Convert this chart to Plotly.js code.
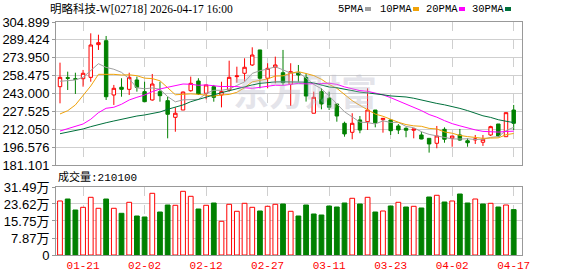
<!DOCTYPE html>
<html>
<head>
<meta charset="utf-8">
<script src="https://cdn.plot.ly/plotly-3.0.1.min.js"></script>
<style>
  html, body { margin: 0; padding: 0; background: #ffffff; }
  #chart { width: 578px; height: 276px; }
</style>
</head>
<body>
<div id="chart"></div>
<script>
// ---- data ----
const dates = ['01-16','01-19','01-20','01-21','01-22','01-23','01-26','01-27','01-28','01-29',
  '01-30','02-02','02-03','02-04','02-05','02-06','02-09','02-10','02-11','02-12',
  '02-13','02-16','02-20','02-23','02-24','02-25','02-26','02-27','03-02','03-03',
  '03-04','03-05','03-06','03-09','03-10','03-11','03-12','03-13','03-16','03-17',
  '03-18','03-19','03-20','03-23','03-24','03-25','03-26','03-27','03-30','03-31',
  '04-01','04-02','04-08','04-09','04-10','04-13','04-14','04-15','04-16','04-17'];

const openP = [248.9,256.7,255.8,255.8,257.0,285.3,288.7,241.7,248.4,246.6,
  254.7,244.6,237.4,244.6,236.8,222.4,228.7,245.4,253.8,243.2,
  248.9,241.7,246.0,257.6,260.5,267.7,280.7,256.2,265.7,261.0,
  251.0,261.0,257.0,225.9,244.6,238.9,233.9,217.2,209.4,220.1,
  218.6,228.7,220.3,220.1,214.9,212.9,211.2,207.1,204.2,199.9,
  212.0,204.2,207.1,202.1,202.8,200.8,207.1,216.6,205.6,228.7];
const highP = [269.7,261.9,261.0,263.4,295.1,293.9,292.8,250.4,256.2,261.0,
  257.6,253.2,259.9,253.2,240.2,231.0,244.6,257.6,256.2,250.4,
  250.4,253.2,271.4,266.2,273.5,283.0,280.7,269.2,274.9,280.7,
  269.2,267.7,260.5,244.6,247.5,244.6,233.9,218.6,225.9,223.5,
  247.5,228.7,221.5,220.7,216.6,213.7,212.3,209.9,204.2,214.9,
  213.7,206.2,212.3,204.2,207.1,207.1,215.1,216.6,226.4,233.1];
const lowP = [234.5,246.0,242.6,248.9,253.2,280.7,237.4,233.1,240.2,241.7,
  244.6,235.9,236.8,235.9,204.2,209.9,228.7,244.6,241.7,238.0,
  235.9,231.0,244.6,252.4,253.2,266.8,247.5,247.5,251.8,250.4,
  232.2,253.2,236.0,225.9,229.3,228.7,218.6,205.6,203.4,208.6,
  211.4,213.7,209.1,207.1,207.9,205.1,204.2,203.4,191.8,195.6,
  200.4,196.9,202.1,196.9,199.3,197.6,206.2,205.1,205.6,211.4];
const closeP = [257.0,256.2,255.3,260.5,285.0,287.0,240.2,247.5,246.6,257.0,
  248.4,235.9,251.2,241.1,225.0,225.9,244.3,251.8,242.6,250.4,
  239.7,244.6,257.0,258.2,265.7,276.3,256.2,264.8,267.7,252.4,
  261.9,259.0,240.8,239.7,233.9,231.1,223.5,208.0,217.2,211.4,
  228.7,217.7,221.5,210.8,211.4,211.2,212.3,203.6,199.3,206.2,
  203.4,206.2,202.7,200.4,203.6,203.4,214.3,206.2,226.4,217.2];

const ma5 = [253.6,254.1,254.7,257.0,262.8,268.8,265.6,264.0,261.3,255.7,
  247.9,247.1,247.8,246.7,240.3,235.8,237.5,237.6,237.9,243.0,
  245.8,245.8,246.9,250.0,253.0,260.4,262.7,264.2,266.1,263.5,
  260.6,261.2,256.4,250.8,247.1,240.9,233.8,227.2,222.7,218.2,
  217.8,216.6,219.3,218.0,218.0,214.5,213.4,209.9,207.6,206.5,
  205.0,203.7,203.6,203.8,203.2,203.4,205.0,205.7,210.9,213.7];
const ma10 = [225.3,228.1,233.1,240.9,249.5,259.6,259.9,259.6,259.0,259.2,
  258.4,256.3,255.9,254.0,248.0,241.9,242.3,242.7,242.3,241.7,
  240.8,241.7,242.2,244.0,248.0,253.1,254.3,255.6,258.1,258.3,
  260.5,261.9,260.3,258.5,255.3,250.8,247.5,241.8,236.8,232.7,
  229.3,225.2,223.3,220.4,218.1,216.1,215.0,214.6,212.8,212.3,
  209.7,208.6,206.7,205.7,204.9,204.2,204.4,204.6,207.3,208.4];
const ma20 = [210.5,212.5,214.3,216.6,220.7,226.4,230.2,231.1,233.7,237.4,
  239.7,241.7,244.6,246.9,248.4,249.8,251.2,251.0,250.1,250.4,
  249.6,249.0,249.1,249.0,248.0,247.5,248.3,249.1,250.2,250.0,
  250.6,251.8,251.3,251.2,251.6,251.9,250.9,248.7,247.4,245.5,
  244.9,243.6,241.8,239.4,236.7,233.4,231.3,228.2,224.8,222.5,
  219.5,216.9,215.0,213.0,211.5,210.2,209.7,209.6,210.1,210.4];
const ma30 = [208.2,209.4,210.5,212.3,214.3,216.3,217.7,219.2,220.7,222.1,
  223.5,224.4,225.9,227.0,229.3,231.1,233.1,235.9,238.0,239.7,
  241.7,243.7,245.4,247.2,248.9,250.4,251.8,252.7,253.0,253.1,
  253.2,253.3,252.8,252.1,250.4,248.6,248.0,246.7,245.7,244.2,
  243.5,242.9,241.9,240.9,240.5,240.0,238.9,237.3,235.9,234.4,
  233.2,231.9,230.1,228.2,226.1,223.7,222.3,220.3,219.0,217.8];

const volume = [250100,259300,208400,220900,267200,216300,259300,216300,193100,244000,
  180600,176000,285700,199100,231500,230200,295000,271800,213000,230200,
  240800,156100,234800,202400,239400,220900,203800,225500,234800,236200,
  202400,180600,231500,189900,185200,226900,222300,240800,262600,236200,
  267200,199100,203800,226900,244000,222300,225500,217700,268600,276500,
  245400,250100,282500,240800,259300,236200,239400,222300,231500,210100];

const tickDates = ['01-21','02-02','02-12','02-27','03-11','03-23','04-02','04-17'];
const priceTicks = [181.101,196.576,212.050,227.525,243.000,258.475,273.950,289.424,304.899];
const volTicks = [0,78700,157500,236200,314900];
const volTickText = ['0','7.87万','15.75万','23.62万','31.49万'];
const titleText = '明略科技-W[02718] 2026-04-17 16:00';
const volLabel = '成交量:210100';
const maNames = ['5PMA','10PMA','20PMA','30PMA'];

// ---- styling ----
const RED = '#ff0000', GREEN = '#008000';
const maColors = ['#a0a0a0','#f0a30a','#ff00ff','#00703c'];
const GRID = '#cfcfcf', BORDER = '#999999';

const volUp = volume.map((v,i) => i === 0 ? closeP[i] >= openP[i] : closeP[i] >= closeP[i-1]);

const data = [];
data.push({
  type:'candlestick', x:dates, open:openP, high:highP, low:lowP, close:closeP,
  xaxis:'x', yaxis:'y', hoverinfo:'skip', whiskerwidth:0,
  increasing:{line:{color:RED, width:1}, fillcolor:'#ffffff'},
  decreasing:{line:{color:GREEN, width:1}, fillcolor:GREEN}
});
[ma5, ma10, ma20, ma30].forEach((arr, k) => {
  data.push({type:'scatter', mode:'lines', x:dates, y:arr, xaxis:'x', yaxis:'y',
    line:{color:maColors[k], width:1}, hoverinfo:'skip'});
});
data.push({
  type:'bar', x:dates, y:volume, xaxis:'x2', yaxis:'y2', width:0.62,
  marker:{color: volUp.map(u => u ? '#ffffff' : GREEN),
          line:{color: volUp.map(u => u ? RED : GREEN), width:1}},
  hoverinfo:'skip'
});

const W = 578, H = 276, L = 56, R = 522, T = 22, B = 255;
const px = x => (x - L) / (R - L);
const py = y => (B - y) / (B - T);

const xCommon = {
  type:'category', range:[-0.52, 60.08], tickvals:tickDates, ticktext:tickDates,
  showgrid:true, gridcolor:GRID, griddash:'dash', gridwidth:1,
  showline:true, mirror:true, linecolor:BORDER, linewidth:1, zeroline:false, ticks:''
};

const annotations = [
  {xref:'paper', yref:'paper', x:px(48), y:py(9), xanchor:'left', yanchor:'middle',
   text:titleText, showarrow:false,
   font:{family:'Liberation Serif, Noto Sans CJK SC', size:11.5, color:'#000000'}},
  {xref:'paper', yref:'paper', x:px(56), y:py(177), xanchor:'left', yanchor:'middle',
   text:volLabel, showarrow:false,
   font:{family:'Liberation Mono, Noto Sans CJK SC', size:11, color:'#000000'}},
  {xref:'paper', yref:'paper', x:px(305), y:py(90), xanchor:'center', yanchor:'middle',
   text:'<b>东方财富</b>', showarrow:false,
   font:{family:'Noto Sans CJK SC', size:36, color:'rgba(185,185,200,0.38)'}}
];
const legendLeft = [336, 378, 424, 470];
const squareLeft = [365, 413, 459, 505];
const shapes = [];
maNames.forEach((n, k) => {
  annotations.push({xref:'paper', yref:'paper', x:px(legendLeft[k]), y:py(9),
    xanchor:'left', yanchor:'middle', text:n, showarrow:false,
    font:{family:'Liberation Mono', size:10.5, color:'#000000'}});
  shapes.push({type:'rect', xref:'paper', yref:'paper',
    x0:px(squareLeft[k]), x1:px(squareLeft[k] + 6), y0:py(11), y1:py(7),
    fillcolor:maColors[k], line:{width:0}});
});

const layout = {
  width:W, height:H, margin:{l:L, r:W - R, t:T, b:H - B, pad:0},
  paper_bgcolor:'#ffffff', plot_bgcolor:'#ffffff', showlegend:false,
  boxgap:0.36,
  xaxis:Object.assign({}, xCommon, {anchor:'y', showticklabels:false, rangeslider:{visible:false}}),
  xaxis2:Object.assign({}, xCommon, {anchor:'y2', showticklabels:true, ticklabelstandoff:0,
    tickfont:{family:'Liberation Mono', size:11, color:RED}}),
  yaxis:{domain:[py(165), 1], range:[181.101, 304.899], tickvals:priceTicks,
    ticktext:priceTicks.map(v => v.toFixed(3)),
    tickfont:{family:'Liberation Sans', size:13, color:'#000000'},
    ticks:'outside', ticklen:3, tickcolor:BORDER,
    showgrid:true, gridcolor:GRID, gridwidth:1, zeroline:false,
    showline:true, mirror:true, linecolor:BORDER, linewidth:1},
  yaxis2:{domain:[0, py(187)], range:[0, 314900], tickvals:volTicks, ticktext:volTickText,
    tickfont:{family:'Liberation Sans, Noto Sans CJK SC', size:13, color:'#000000'},
    ticks:'outside', ticklen:3, tickcolor:BORDER,
    showgrid:true, gridcolor:GRID, gridwidth:1, zeroline:false,
    showline:true, mirror:true, linecolor:BORDER, linewidth:1},
  annotations:annotations, shapes:shapes
};

Plotly.newPlot('chart', data, layout, {staticPlot:true, displayModeBar:false});
</script>
</body>
</html>
